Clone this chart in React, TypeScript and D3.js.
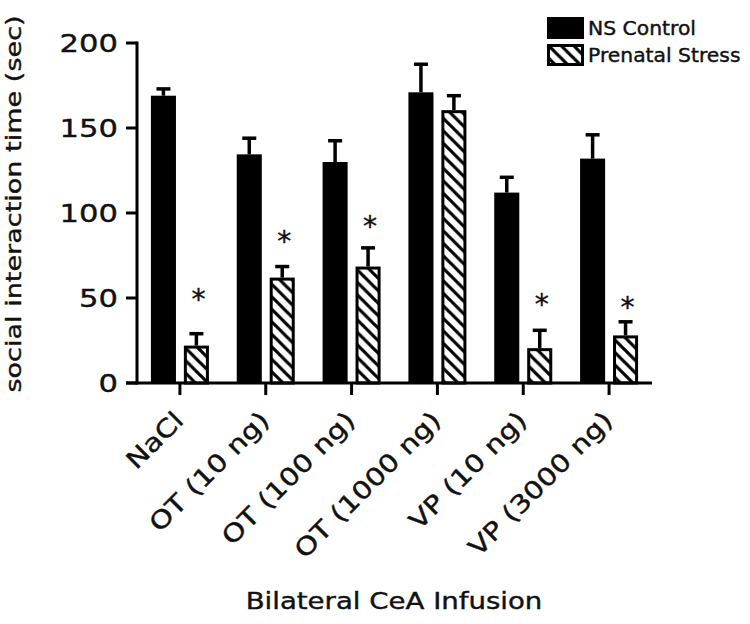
import { useEffect, useRef } from 'react'
import * as d3 from 'd3'

// (sec)
const categories = ['NaCl', 'OT (10 ng)', 'OT (100 ng)', 'OT (1000 ng)', 'VP (10 ng)', 'VP (3000 ng)']
const nsControl = [169, 134.5, 130, 171, 112, 132]
const nsControlErr = [4, 9.5, 12.5, 16.5, 9, 14]
const prenatalStress = [22, 62, 68.5, 160.5, 20.5, 28]
const prenatalStressErr = [7, 6.5, 11, 8.5, 10.5, 8]
// height (sec) where each significance star sits, null = none
const starAt: (number | null)[] = [53, 87, 96, null, 50, 48]
const yTicks = [0, 50, 100, 150, 200]
const seriesNames = ['NS Control', 'Prenatal Stress']

const FONT = '"DejaVu Sans", sans-serif'
const SX = 1.2 // the original face is wider than DejaVu
const INK = '#111'

export default function App() {
  const svgRef = useRef<SVGSVGElement | null>(null)

  useEffect(() => {
    const el = svgRef.current
    if (!el) return
    const svg = d3.select(el)
    svg.selectAll('*').remove()

    const x0 = 137, x1 = 652, yTop = 43, yBot = 383

    const x = d3.scaleBand<string>().domain(categories).range([x0, x1])
    const inner = d3.scaleBand<string>().domain(['ns', 'ps']).range([-29, 29]).paddingInner(0.24)
    const y = d3.scaleLinear().domain([0, 200]).range([yBot, yTop])

    const defs = svg.append('defs')
    const s = 12.5
    const pat = defs.append('pattern')
      .attr('id', 'hatch')
      .attr('patternUnits', 'userSpaceOnUse')
      .attr('width', s).attr('height', s)
    pat.append('rect').attr('width', s).attr('height', s).attr('fill', '#fff')
    pat.append('path')
      .attr('d', `M-2,-2 L${s + 2},${s + 2} M-2,${s - 2} L2,${s + 2} M${s - 2},-2 L${s + 2},2`)
      .attr('stroke', '#000').attr('stroke-width', 3.2)

    const g = svg.append('g')

    // text helper: DejaVu is a bit light, so give it a hairline outline
    const label = (sel: d3.Selection<any, unknown, null, undefined>, size: number) =>
      sel.append('text')
        .attr('font-family', FONT)
        .attr('font-size', size)
        .attr('fill', INK)
        .attr('stroke', INK)
        .attr('stroke-width', 0.4)

    const cx = (c: string) => (x(c) as number) + x.bandwidth() / 2
    const bw = inner.bandwidth()

    // error bars (upper only) drawn first so bars cover the stem base
    const errBar = (c: string, key: string, v: number, e: number) => {
      const mx = cx(c) + (inner(key) as number) + bw / 2
      g.append('line')
        .attr('x1', mx).attr('x2', mx)
        .attr('y1', y(v)).attr('y2', y(v + e))
        .attr('stroke', '#000').attr('stroke-width', 3.5)
      g.append('line')
        .attr('x1', mx - 7).attr('x2', mx + 7)
        .attr('y1', y(v + e)).attr('y2', y(v + e))
        .attr('stroke', '#000').attr('stroke-width', 3.5)
    }

    categories.forEach((c, i) => {
      errBar(c, 'ns', nsControl[i], nsControlErr[i])
      errBar(c, 'ps', prenatalStress[i], prenatalStressErr[i])

      g.append('rect')
        .attr('x', cx(c) + (inner('ns') as number))
        .attr('y', y(nsControl[i]))
        .attr('width', bw)
        .attr('height', y(0) - y(nsControl[i]))
        .attr('fill', '#000')

      g.append('rect')
        .attr('x', cx(c) + (inner('ps') as number) + 1.5)
        .attr('y', y(prenatalStress[i]) + 1.5)
        .attr('width', bw - 3)
        .attr('height', y(0) - y(prenatalStress[i]) - 1.5)
        .attr('fill', 'url(#hatch)')
        .attr('stroke', '#000')
        .attr('stroke-width', 3)

      const st = starAt[i]
      if (st != null) {
        label(g, 28)
          .attr('x', cx(c) + (inner('ps') as number) + bw / 2 + 2)
          .attr('y', y(st) + 16)
          .attr('text-anchor', 'middle')
          .text('*')
      }
    })

    // axes
    g.append('line')
      .attr('x1', x0).attr('x2', x0).attr('y1', yTop - 1.5).attr('y2', yBot + 1.5)
      .attr('stroke', '#000').attr('stroke-width', 3)
    g.append('line')
      .attr('x1', x0 - 11).attr('x2', x1).attr('y1', yBot).attr('y2', yBot)
      .attr('stroke', '#000').attr('stroke-width', 3)

    yTicks.forEach(t => {
      g.append('line')
        .attr('x1', x0 - 11).attr('x2', x0).attr('y1', y(t)).attr('y2', y(t))
        .attr('stroke', '#000').attr('stroke-width', 3)
      label(g, 25.5)
        .attr('transform', `translate(118,${y(t)}) scale(${SX},1)`)
        .attr('dy', '0.36em')
        .attr('text-anchor', 'end')
        .text(t)
    })

    categories.forEach(c => {
      g.append('line')
        .attr('x1', cx(c)).attr('x2', cx(c)).attr('y1', yBot).attr('y2', yBot + 12)
        .attr('stroke', '#000').attr('stroke-width', 3)
      label(g, 24.5)
        .attr('transform', `translate(${cx(c) + 5},${yBot + 39}) rotate(-45) scale(${SX},1)`)
        .attr('text-anchor', 'end')
        .text(c)
    })

    // axis titles
    label(g, 22)
      .attr('transform', `translate(21,204) rotate(-90) scale(1.23,1)`)
      .attr('text-anchor', 'middle')
      .text('social interaction time (sec)')

    label(g, 23)
      .attr('transform', `translate(394,609) scale(${SX},1)`)
      .attr('text-anchor', 'middle')
      .text('Bilateral CeA Infusion')

    // legend
    const leg = g.append('g').attr('transform', 'translate(547,17)')
    seriesNames.forEach((n, i) => {
      const row = leg.append('g').attr('transform', `translate(0,${i * 27})`)
      if (i === 0) {
        row.append('rect').attr('width', 37).attr('height', 22).attr('fill', '#000')
      } else {
        row.append('rect')
          .attr('x', 1.5).attr('y', 1.5).attr('width', 34).attr('height', 19)
          .attr('fill', 'url(#hatch)').attr('stroke', '#000').attr('stroke-width', 3)
      }
      label(row, 19)
        .attr('transform', `translate(41,18) scale(1.07,1)`)
        .text(n)
    })
  }, [])

  return (
    <svg
      ref={svgRef}
      width={750}
      height={624}
      style={{ position: 'absolute', left: 0, top: 0, display: 'block', background: '#fff' }}
    />
  )
}
